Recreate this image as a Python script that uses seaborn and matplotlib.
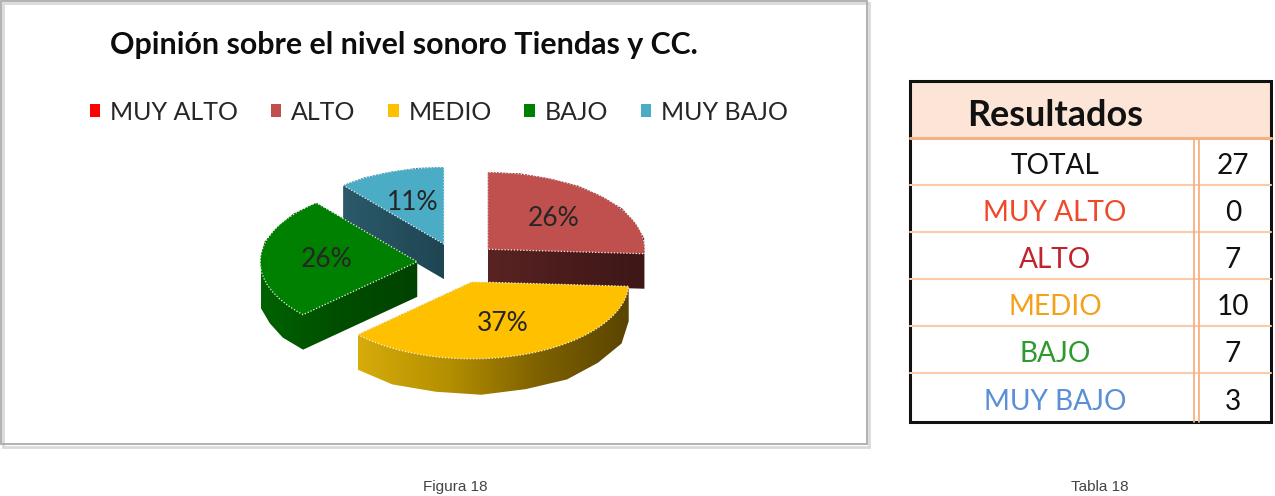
import numpy as np
import pandas as pd
import matplotlib
matplotlib.use('Agg')
import matplotlib.pyplot as plt
import seaborn as sns
from matplotlib.patches import PathPatch, Rectangle
from matplotlib.path import Path
from matplotlib.colors import LinearSegmentedColormap

# ---------------- data ----------------
categories = ['MUY ALTO', 'ALTO', 'MEDIO', 'BAJO', 'MUY BAJO']
counts = [0, 7, 10, 7, 3]
chart_title = 'Opinión sobre el nivel sonoro Tiendas y CC.'
table_title = 'Resultados'
total_label = 'TOTAL'
figure_caption = 'Figura 18'
table_caption = 'Tabla 18'

# ---------------- styles ----------------
top_colors = ['#FF0000', '#C0504D', '#FFC000', '#008000', '#4BACC6']
side_colors = [['#7A0000', '#5A0000'],
               ['#5A2323', '#4A1C1C', '#3E1717'],
               ['#D6AC0A', '#B48F00', '#7E6100', '#5A4400'],
               ['#006200', '#004E00', '#004200'],
               ['#2B5A6A', '#1F4552']]
table_text_colors = ['#F0492A', '#C0232C', '#F5A01A', '#2E9A2E', '#5B8FD6']

sns.set_theme(style='white')
plt.rcParams['font.family'] = ['Lato', 'DejaVu Sans']

W, H = 1275, 496
fig = plt.figure(figsize=(W / 100, H / 100), dpi=100)
fig.patch.set_facecolor('white')


def fx(p):
    return p / W


def fy(p):
    return 1 - p / H


# overlay axes in pixel coordinates for frame / table
tax = fig.add_axes([0, 0, 1, 1], zorder=5)
tax.set_xlim(0, W)
tax.set_ylim(H, 0)
tax.axis('off')
tax.patch.set_alpha(0)

# chart frame with light shadow
tax.add_patch(Rectangle((3, 3), 866, 444, fill=False, edgecolor='#DADADA', lw=2.0))
tax.add_patch(Rectangle((1, 1), 866, 443, fill=False, edgecolor='#ABABAB', lw=1.3))

# ---------------- 3D-looking exploded pie ----------------
cx, cy, rx, ry = 458, 263, 157, 77
hw, hh = 260, 190
ax = fig.add_axes([fx(cx - hw), fy(cy + hh), 2 * hw / W, 2 * hh / H], zorder=2)
depth = 35 / ry
explode = [0.26] * len(counts)
pie_kw = dict(startangle=90, counterclock=False, explode=explode, radius=1.0)

bottom_wedges, _ = ax.pie(counts, colors=top_colors, center=(0, -depth),
                          wedgeprops=dict(linewidth=0), **pie_kw)
top_wedges, _, pct_texts = ax.pie(
    counts, colors=top_colors, center=(0, 0),
    autopct=lambda p: f'{p:.0f}%' if p > 0 else '', pctdistance=0.58,
    wedgeprops=dict(linewidth=0.9, edgecolor='#F2F2F2', linestyle=(0, (1, 1.5))),
    textprops=dict(fontsize=19, color='#262626'), **pie_kw)
for w in bottom_wedges:
    w.set_visible(False)


def convex_hull(pts):
    pts = sorted(set(map(tuple, np.round(pts, 7))))

    def cross(o, a, b):
        return (a[0] - o[0]) * (b[1] - o[1]) - (a[1] - o[1]) * (b[0] - o[0])
    lower, upper = [], []
    for p in pts:
        while len(lower) >= 2 and cross(lower[-2], lower[-1], p) <= 0:
            lower.pop()
        lower.append(p)
    for p in reversed(pts):
        while len(upper) >= 2 and cross(upper[-2], upper[-1], p) <= 0:
            upper.pop()
        upper.append(p)
    return np.array(lower[:-1] + upper[:-1])


order = sorted(range(len(counts)), key=lambda i: -top_wedges[i].center[1])
for rank, i in enumerate(order):
    if counts[i] == 0:
        top_wedges[i].set_linestyle('-')
        top_wedges[i].set_edgecolor('none')
        continue
    polys = top_wedges[i].get_path().to_polygons() + bottom_wedges[i].get_path().to_polygons()
    hull = convex_hull(np.vstack(polys))
    clip = PathPatch(Path(np.vstack([hull, hull[:1]]), closed=True),
                     transform=ax.transData, facecolor='none', edgecolor='none')
    cmap = LinearSegmentedColormap.from_list(f'side{i}', side_colors[i])
    x0, x1 = hull[:, 0].min(), hull[:, 0].max()
    y0, y1 = hull[:, 1].min(), hull[:, 1].max()
    im = ax.imshow(np.linspace(0, 1, 256)[None, :], extent=(x0, x1, y0, y1), cmap=cmap,
                   aspect='auto', interpolation='bilinear', zorder=10 + rank * 3)
    im.set_clip_path(clip)
    top_wedges[i].set_zorder(11 + rank * 3)

for t in pct_texts:
    t.set_zorder(100)

ax.set_aspect('auto')
ax.set_xlim(-hw / rx, hw / rx)
ax.set_ylim(-hh / ry, hh / ry)
ax.axis('off')

# ---------------- title & legend ----------------
title_txt = fig.text(fx(404), fy(45), chart_title, ha='center', va='center',
                     fontsize=18, fontweight='bold', color='#0D0D0D')

fig.canvas.draw()
renderer = fig.canvas.get_renderer()


def width_of(txt):
    return txt.get_window_extent(renderer).width


title_txt.set_fontsize(title_txt.get_fontsize() * 588 / width_of(title_txt))

probe = fig.text(0, 0, 'MUY ALTO', fontsize=18)
leg_fs = 18 * 128 / width_of(probe)
probe.remove()

proxies = [Rectangle((0, 0), 1, 1, facecolor=c, edgecolor='none') for c in top_colors]
leg = fig.legend(handles=proxies, labels=categories, loc='center',
                 bbox_to_anchor=(fx(439), fy(112)), ncol=5, frameon=False,
                 fontsize=leg_fs, handlelength=0.42, handleheight=0.42,
                 handletextpad=0.4, columnspacing=1.3, borderpad=0, borderaxespad=0)
for t in leg.get_texts():
    t.set_color('#262626')

# ---------------- table ----------------
tx0, tx1, ty0, ty1 = 910, 1271, 81, 422
row_edges = [138, 185, 232, 279, 326, 373, 422]
tax.add_patch(Rectangle((tx0, ty0), tx1 - tx0, row_edges[0] - ty0, facecolor='#FCE4D6', edgecolor='none'))
for y in row_edges[1:-1]:
    tax.plot([tx0, tx1], [y, y], color='#F8CBAD', lw=1.5)
tax.plot([tx0, tx1], [row_edges[0]] * 2, color='#F4B183', lw=2.2)
for x in (1193.5, 1198.5):
    tax.plot([x, x], [row_edges[0], ty1], color='#F4B183', lw=1.3)
tax.add_patch(Rectangle((tx0, ty0), tx1 - tx0, ty1 - ty0, fill=False, edgecolor='#111111', lw=2.2))

head = tax.text(1055, 113, table_title, ha='center', va='center_baseline', fontsize=20,
                fontweight='bold', color='#111111')
head.set_fontsize(20 * 176 / width_of(head))

rows = [(total_label, sum(counts), '#111111')] + \
       [(c, v, col) for c, v, col in zip(categories, counts, table_text_colors)]
probe = fig.text(0, 0, 'MUY ALTO', fontsize=20)
tab_fs = 20 * 143 / width_of(probe)
probe.remove()
cap_px = 0.72 * tab_fs * 100 / 72
for k, (lab, val, col) in enumerate(rows):
    yc = (row_edges[k] + row_edges[k + 1]) / 2 + 2
    tax.text(1055, yc + cap_px / 2, lab, ha='center', va='baseline', fontsize=tab_fs, color=col)
    tax.text(1233, yc + cap_px / 2, str(val), ha='center', va='baseline', fontsize=tab_fs, color='#111111')

# ---------------- captions at the bottom edge ----------------
fig.text(fx(455), fy(494), figure_caption, ha='center', va='bottom', fontsize=11,
         color='#444444', family=['Liberation Sans', 'DejaVu Sans'])
fig.text(fx(1100), fy(494), table_caption, ha='center', va='bottom', fontsize=11,
         color='#444444', family=['Liberation Sans', 'DejaVu Sans'])

fig.savefig('out.png', dpi=100)
